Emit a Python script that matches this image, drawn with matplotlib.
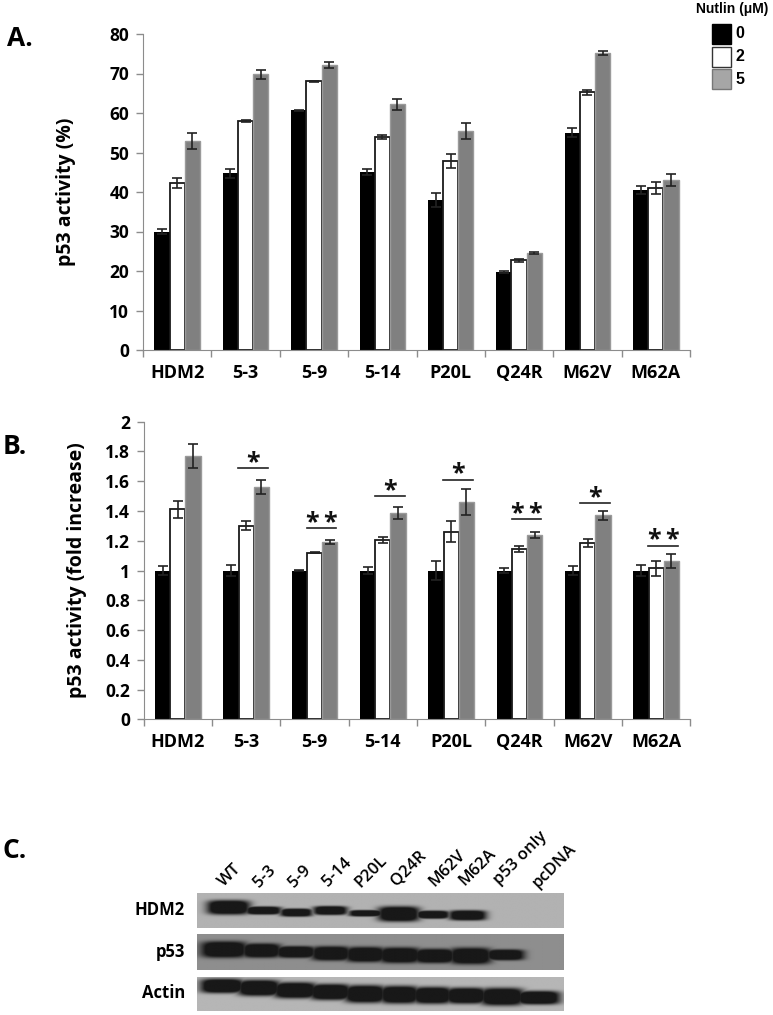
#: Nutlin response of p53 activity, with western blots
import numpy as np
import matplotlib
matplotlib.use('Agg')
import matplotlib.pyplot as plt
from matplotlib.patches import Rectangle

plt.rcParams['font.family'] = ['Open Sans', 'DejaVu Sans']
plt.rcParams['font.weight'] = 'bold'

W, H = 773, 1015

# bar chart data
groups = ['HDM2', '5-3', '5-9', '5-14', 'P20L', 'Q24R', 'M62V', 'M62A']
doses = ['0', '2', '5']

pct_0 = [30, 44.7, 60.7, 45, 38, 19.8, 55, 40.5]
pct_2 = [42.3, 58, 68, 54, 47.8, 22.7, 65.2, 41]
pct_5 = [53, 69.8, 72.2, 62.2, 55.5, 24.5, 75.3, 43]
pct_0_err = [0.6, 1.1, 0.1, 0.8, 1.8, 0.2, 1.1, 1]
pct_2_err = [1.2, 0.2, 0.1, 0.5, 1.8, 0.3, 0.7, 1.6]
pct_5_err = [2, 1.2, 0.8, 1.4, 2, 0.3, 0.5, 1.5]

fold_0 = [1, 1, 1, 1, 1, 1, 1, 1]
fold_2 = [1.41, 1.3, 1.12, 1.205, 1.26, 1.147, 1.185, 1.015]
fold_5 = [1.77, 1.56, 1.19, 1.385, 1.46, 1.237, 1.37, 1.065]
fold_0_err = [0.03, 0.035, 0.003, 0.025, 0.065, 0.015, 0.03, 0.04]
fold_2_err = [0.055, 0.03, 0.002, 0.022, 0.07, 0.02, 0.025, 0.05]
fold_5_err = [0.08, 0.045, 0.012, 0.04, 0.085, 0.02, 0.028, 0.045]

# significance marks on panel B
sig_groups = [1, 2, 3, 4, 5, 6, 7]
sig_levels = [1.69, 1.285, 1.50, 1.61, 1.344, 1.454, 1.167]
sig_stars = [1, 2, 1, 1, 2, 1, 2]

# blot bands, in percent of the strip: centre x, width, centre y, thickness
blot_labels = ['WT', '5-3', '5-9', '5-14', 'P20L', 'Q24R', 'M62V', 'M62A', 'p53 only', 'pcDNA']
hdm2_x = [8.5, 18, 27, 36.3, 46, 55, 64.3, 73.8]
hdm2_w = [9.8, 8.2, 7.3, 7.7, 7.7, 9.5, 7.6, 8.5]
hdm2_y = [41, 50, 56, 50, 58, 60, 62, 64]
hdm2_h = [34, 19, 19, 21, 15, 36, 19, 24]
p53_x = [7.3, 17.5, 26.9, 36.5, 45.9, 55.3, 64.8, 74.6, 84.1]
p53_w = [10.6, 9, 9.2, 9, 9.2, 9.5, 9.5, 9.6, 8.7]
p53_y = [43, 46, 50, 54, 57, 59, 61, 61, 58]
p53_h = [38, 33, 27, 33, 35, 36, 33, 38, 25]
actin_x = [6.8, 16.8, 26.7, 36.3, 45.8, 55.2, 64.2, 73.4, 83.2, 93.1]
actin_w = [10, 9.8, 10, 9.5, 9.5, 9, 9, 9.5, 10, 10]
actin_y = [26, 32, 39, 44, 50, 52, 54, 55, 58, 61]
actin_h = [35, 39, 39, 39, 43, 43, 41, 39, 43, 33]

BLACK = '#000000'
GREY = '#808080'
AXIS = '#8c8c8c'
ERR = '#222222'


def px_axes(fig, left, top, right, bottom):
    return fig.add_axes([left / W, 1 - bottom / H, (right - left) / W, (bottom - top) / H])


def bars(ax, series, errors, ymax, step):
    x = np.arange(len(groups))
    width = 0.222
    styles = [dict(color=BLACK),
              dict(facecolor='white', edgecolor='#1a1a1a', linewidth=1.3),
              dict(facecolor=GREY, edgecolor='#9a9a9a', linewidth=1.0)]
    for i in range(3):
        ax.bar(x + (i - 1) * width, series[i], width, **styles[i])
        ax.errorbar(x + (i - 1) * width, series[i], yerr=errors[i], fmt='none',
                    ecolor=ERR, elinewidth=1.2, capsize=3.5, capthick=1.2)
    ax.set_xlim(-0.5, len(groups) - 0.5)
    ax.set_ylim(0, ymax)
    ax.set_yticks(np.arange(0, ymax + step / 2, step))
    ax.set_xticks(np.arange(-0.5, len(groups)))
    ax.set_xticklabels([])
    ax.set_xticks(x, labels=groups, minor=True)
    ax.tick_params(axis='x', which='minor', length=0, labelsize=13, pad=10)
    ax.tick_params(axis='x', which='major', length=5, width=1, color=AXIS)
    ax.tick_params(axis='y', length=5, width=1, color=AXIS, labelsize=12.5, pad=5)
    ax.spines[['top', 'right']].set_visible(False)
    ax.spines[['left', 'bottom']].set_color(AXIS)
    ax.set_axisbelow(True)


def blot(fig, left, top, right, bottom, bg, xs, ws, ys, hs):
    ax = px_axes(fig, left, top, right, bottom)
    xx, yy = np.meshgrid(np.linspace(0, 100, 400), np.linspace(0, 100, 120))
    dark = np.zeros_like(xx)
    for cx, w, cy, h in zip(xs, ws, ys, hs):
        band = np.exp(-np.abs((xx - cx) / (w * 0.6)) ** 4 - np.abs((yy - cy) / (h * 0.6)) ** 4)
        dark = np.maximum(dark, band)
    dark = np.clip(dark * 1.5, 0, 1)
    img = bg * (1 - dark) + 24 * dark
    ax.imshow(img, cmap='gray', vmin=0, vmax=255, extent=(0, 100, 100, 0),
              aspect='auto', interpolation='bilinear')
    ax.axis('off')
    return ax


fig = plt.figure(figsize=(W / 100, H / 100), dpi=100)

# panel A
ax_a = px_axes(fig, 143, 34, 690, 350)
bars(ax_a, [pct_0, pct_2, pct_5], [pct_0_err, pct_2_err, pct_5_err], 80, 10)
ax_a.set_ylabel('p53 activity (%)', fontsize=14, fontweight='bold', labelpad=24)

# panel B
ax_b = px_axes(fig, 143.7, 421.7, 690.3, 719.3)
bars(ax_b, [fold_0, fold_2, fold_5], [fold_0_err, fold_2_err, fold_5_err], 2, 0.2)
ax_b.set_yticks(np.arange(0, 2.1, 0.2), labels=['0', '0.2', '0.4', '0.6', '0.8', '1', '1.2', '1.4', '1.6', '1.8', '2'])
ax_b.set_ylabel('p53 activity (fold increase)', fontsize=14, fontweight='bold', labelpad=13)
for g, level, n in zip(sig_groups, sig_levels, sig_stars):
    ax_b.plot([g - 0.115, g + 0.32], [level, level], color='#222222', lw=1.2)
    for k in range(n):
        ax_b.annotate('*', (g + 0.1 + (k - (n - 1) / 2) * 0.26, level), xytext=(0, -5),
                      textcoords='offset points', ha='center', va='bottom',
                      fontsize=18, color='#111111')

# legend, drawn on the figure
fig.text(732 / W, 1 - 9 / H, 'Nutlin (\u03bcM)', fontsize=10, ha='center', va='center',
         family=['Liberation Sans', 'DejaVu Sans'])
for i, (d, c, e) in enumerate(zip(doses, ['black', 'white', '#a6a6a6'], ['black', '#333333', '#777777'])):
    top = 24 + i * 22.5
    fig.add_artist(Rectangle((712 / W, 1 - (top + 20) / H), 19 / W, 20 / H, facecolor=c, edgecolor=e,
                             linewidth=1, transform=fig.transFigure))
    fig.text(735 / W, 1 - (top + 10) / H, d, fontsize=11.5, va='center',
             family=['Liberation Sans', 'DejaVu Sans'])

# panel letters
fig.text(7 / W, 1 - 39 / H, 'A.', fontsize=19, va='center')
fig.text(3 / W, 1 - 446 / H, 'B.', fontsize=19, va='center')
fig.text(3 / W, 1 - 851 / H, 'C.', fontsize=19, va='center')

# panel C
blot(fig, 197, 893, 564, 928, 178, hdm2_x, hdm2_w, hdm2_y, hdm2_h)
blot(fig, 197, 934, 564, 970, 142, p53_x, p53_w, p53_y, p53_h)
blot(fig, 197, 977, 564, 1011, 182, actin_x, actin_w, actin_y, actin_h)

for name, y in zip(['HDM2', 'p53', 'Actin'], [910, 952, 993]):
    fig.text(185 / W, 1 - y / H, name, fontsize=12, ha='right', va='center')

label_xc = [230, 265, 300, 337, 371, 409, 447, 478, 520, 554]
label_yc = [875, 877, 877, 872, 872, 868, 868, 867, 858, 866]
for name, xc, yc in zip(blot_labels, label_xc, label_yc):
    fig.text(xc / W, 1 - yc / H, name, fontsize=12, rotation=45, ha='center', va='center',
             rotation_mode='anchor', fontweight='semibold')

fig.savefig('out.png', dpi=100)
